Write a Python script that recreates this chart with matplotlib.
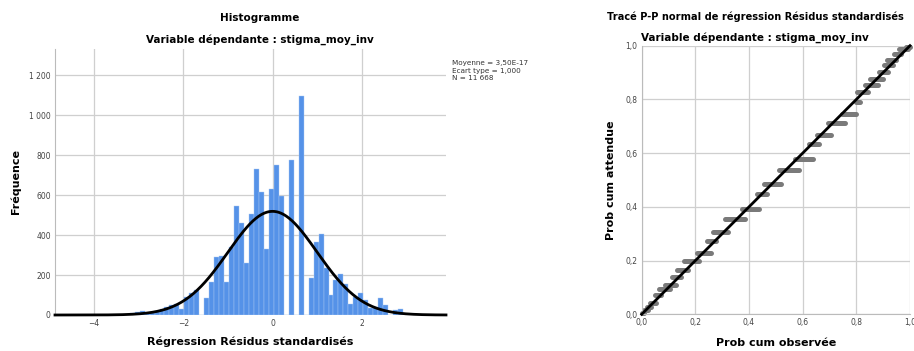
import math
import matplotlib
matplotlib.use("Agg")
import matplotlib.pyplot as plt
import numpy as np

plt.rcParams['font.family'] = ['DejaVu Sans']

# ---------------- Histogram data ----------------
bin_start = -3.205
bin_width = 0.1115
counts = [12, 13, 20, 12, 15, 18, 30, 38, 48, 53,
          28, 90, 112, 125, 0, 83, 167, 290, 297, 165,
          340, 546, 460, 262, 505, 730, 617, 330, 630, 752,
          596, 0, 777, 0, 1097, 0, 184, 368, 404, 237,
          100, 177, 205, 157, 57, 92, 108, 75, 37, 42,
          87, 50, 0, 25, 32]
mean_val = 0.0
sd_val = 1.0
n_total = 11668
hist_xticks = [-4, -2, 0, 2]
hist_yticks = [0, 200, 400, 600, 800, 1000, 1200]
hist_ytick_labels = ["0", "200", "400", "600", "800", "1 000", "1 200"]
stats_lines = ["Moyenne = 3,50E-17", "Ecart type = 1,000", "N = 11 668"]

# ---------------- P-P plot data ----------------
seg_y = [0.005, 0.015, 0.028, 0.041, 0.072, 0.093, 0.109, 0.140, 0.165, 0.198,
         0.230, 0.273, 0.306, 0.354, 0.391, 0.448, 0.486, 0.538, 0.577, 0.634,
         0.669, 0.713, 0.747, 0.792, 0.826, 0.854, 0.875, 0.903, 0.928, 0.946,
         0.970, 0.988, 0.996]
seg_x0 = [0.002, 0.010, 0.020, 0.030, 0.050, 0.065, 0.088, 0.114, 0.132, 0.157,
          0.207, 0.244, 0.267, 0.312, 0.375, 0.428, 0.455, 0.511, 0.571, 0.623,
          0.652, 0.694, 0.747, 0.797, 0.802, 0.834, 0.850, 0.884, 0.903, 0.915,
          0.940, 0.959, 0.985]
seg_x1 = [0.010, 0.022, 0.035, 0.052, 0.073, 0.104, 0.128, 0.147, 0.172, 0.215,
          0.259, 0.278, 0.321, 0.386, 0.439, 0.468, 0.520, 0.586, 0.638, 0.660,
          0.704, 0.756, 0.797, 0.815, 0.842, 0.880, 0.898, 0.917, 0.936, 0.948,
          0.967, 0.992, 1.000]
pp_ticks = [0.0, 0.2, 0.4, 0.6, 0.8, 1.0]
pp_tick_labels = ["0,0", "0,2", "0,4", "0,6", "0,8", "1,0"]

W, H = 914, 351
fig = plt.figure(figsize=(W / 100, H / 100), dpi=100)

def fx(px):
    return px / W

def fy(py):
    return 1 - py / H

grid_c = '#cfcfcf'
tick_c = '#444444'
bar_c = '#5592e8'

# ---------------- Histogram ----------------
ax1 = fig.add_axes([fx(55), fy(315), fx(446) - fx(55), fy(49) - fy(315)])
edges = bin_start + bin_width * np.arange(len(counts) + 1)
ax1.bar(edges[:-1], counts, width=bin_width, align='edge', color=bar_c,
        edgecolor='#a9c8f2', linewidth=0.3, zorder=2)
xlim = (-4.88, 3.89)
xs = np.linspace(xlim[0], xlim[1], 400)
ys = [n_total * bin_width * math.exp(-0.5 * ((x - mean_val) / sd_val) ** 2) /
      (sd_val * math.sqrt(2 * math.pi)) for x in xs]
ax1.plot(xs, ys, color='black', lw=2.0, zorder=3, clip_on=False)
ax1.set_xlim(*xlim)
ax1.set_ylim(0, 1332)
ax1.set_xticks(hist_xticks)
ax1.set_xticklabels(["\u22124", "\u22122", "0", "2"])
ax1.set_yticks(hist_yticks)
ax1.set_yticklabels(hist_ytick_labels)
ax1.grid(True, color=grid_c, lw=0.9, zorder=0)
ax1.set_axisbelow(True)
for s in ['top', 'right', 'bottom']:
    ax1.spines[s].set_visible(False)
ax1.spines['left'].set_color('#bbbbbb')
ax1.tick_params(length=0, labelsize=5.5, labelcolor=tick_c, pad=3)

fig.text(fx(260), fy(18), "Histogramme", ha='center', va='center',
         fontsize=7.5, fontweight='bold')
fig.text(fx(260), fy(40), "Variable dépendante : stigma_moy_inv", ha='center',
         va='center', fontsize=7.5, fontweight='bold')
fig.text(fx(16), fy(182), "Fréquence", ha='center', va='center', rotation=90,
         fontsize=8, fontweight='bold')
fig.text(fx(250), fy(342), "Régression Résidus standardisés", ha='center',
         va='center', fontsize=8, fontweight='bold')
for i, line in enumerate(stats_lines):
    fig.text(fx(452), fy(63 + i * 7.5), line, ha='left', va='center',
             fontsize=5.2, color='#333333')

# ---------------- P-P plot ----------------
ax2 = fig.add_axes([fx(641.7), fy(314.3), fx(910) - fx(641.7), fy(45.7) - fy(314.3)])
for y, x0, x1 in zip(seg_y, seg_x0, seg_x1):
    ax2.plot([x0, x1], [y, y], color='#7a7a7a', lw=3.6, solid_capstyle='round',
             zorder=2, clip_on=False)
ax2.plot(pp_ticks, pp_ticks, color='black', lw=2.0, zorder=3, clip_on=False)
ax2.set_xlim(0, 1)
ax2.set_ylim(0, 1)
ax2.set_xticks(pp_ticks)
ax2.set_xticklabels(pp_tick_labels)
ax2.set_yticks(pp_ticks)
ax2.set_yticklabels(pp_tick_labels)
ax2.grid(True, color=grid_c, lw=0.9, zorder=0)
ax2.set_axisbelow(True)
for s in ['top', 'right']:
    ax2.spines[s].set_visible(False)
for s in ['left', 'bottom']:
    ax2.spines[s].set_color('#bbbbbb')
ax2.tick_params(length=0, labelsize=5.5, labelcolor=tick_c, pad=3)

fig.text(fx(755), fy(17), "Tracé P-P normal de régression Résidus standardisés",
         ha='center', va='center', fontsize=7.1, fontweight='bold')
fig.text(fx(755), fy(38), "Variable dépendante : stigma_moy_inv", ha='center',
         va='center', fontsize=7.5, fontweight='bold')
fig.text(fx(611), fy(180), "Prob cum attendue", ha='center', va='center',
         rotation=90, fontsize=8, fontweight='bold')
fig.text(fx(776), fy(343), "Prob cum observée", ha='center', va='center',
         fontsize=8, fontweight='bold')

fig.savefig("out.png", dpi=100, facecolor='white')
